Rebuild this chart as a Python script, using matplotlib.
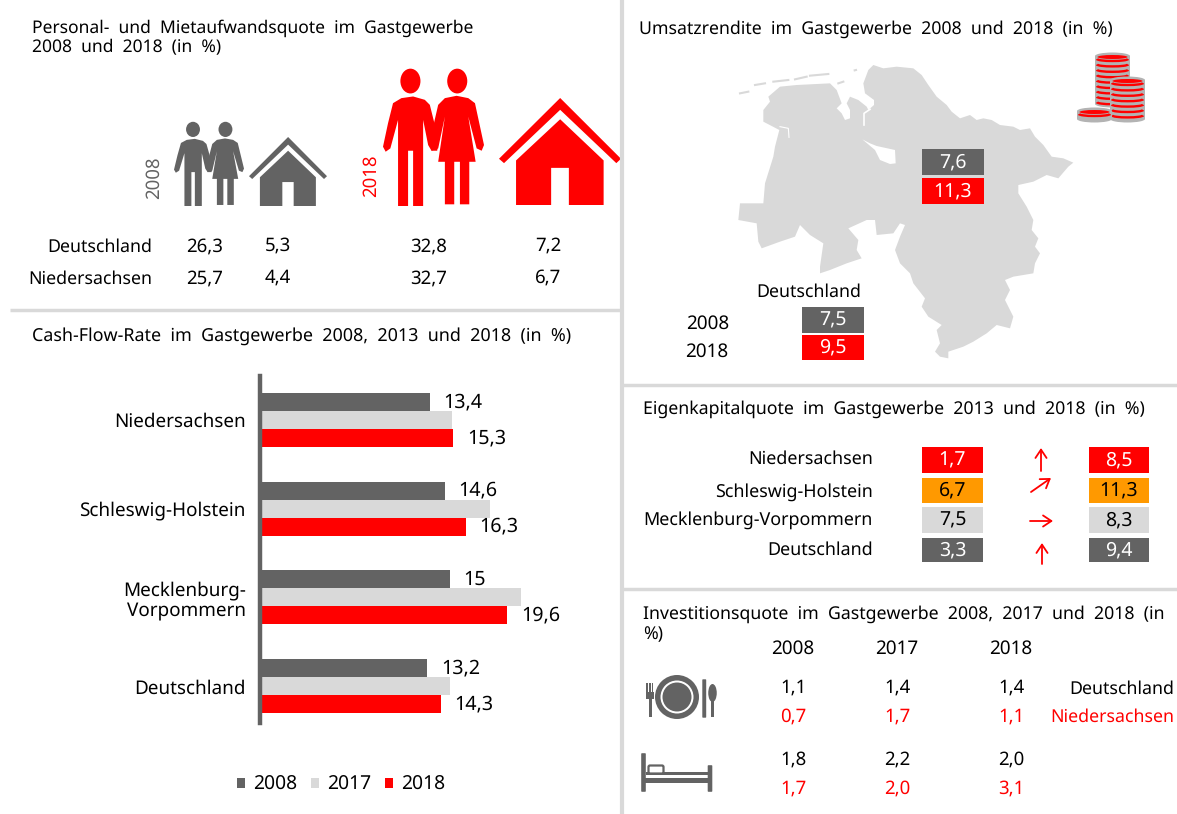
"""Gastgewerbe infographic: five small panels on one page."""

import matplotlib

matplotlib.use("Agg")

import matplotlib.pyplot as plt
from matplotlib.patches import Arc, Circle, Ellipse, FancyArrowPatch, FancyBboxPatch, Polygon, Rectangle

GRAY = "#636363"
LIGHT = "#d9d9d9"
COIN = "#b3b3b3"
RED = "#ff0000"
ORANGE = "#ff9900"
FONT = "Noto Sans"

plt.rcParams["font.family"] = [FONT, "DejaVu Sans"]
# unhinted text scales evenly with the size, so widths can be matched
plt.rcParams["text.hinting"] = "none"

# Cash-Flow-Rate
CF_REGIONS = ["Niedersachsen", "Schleswig-Holstein", "Mecklenburg-\nVorpommern", "Deutschland"]
CF_2008 = [13.4, 14.6, 15.0, 13.2]
CF_2017 = [15.2, 18.2, 20.7, 15.0]
CF_2018 = [15.3, 16.3, 19.6, 14.3]
CF_LABELS_2008 = ["13,4", "14,6", "15", "13,2"]
CF_LABELS_2018 = ["15,3", "16,3", "19,6", "14,3"]

# Personal- und Mietaufwandsquote
QUOTE_REGIONS = ["Deutschland", "Niedersachsen"]
QUOTE_PERSONAL_2008 = ["26,3", "25,7"]
QUOTE_MIETE_2008 = ["5,3", "4,4"]
QUOTE_PERSONAL_2018 = ["32,8", "32,7"]
QUOTE_MIETE_2018 = ["7,2", "6,7"]

# Umsatzrendite
RENDITE_NDS = ["7,6", "11,3"]
RENDITE_DE = ["7,5", "9,5"]
RENDITE_YEARS = ["2008", "2018"]

# Eigenkapitalquote
EK_REGIONS = ["Niedersachsen", "Schleswig-Holstein", "Mecklenburg-Vorpommern", "Deutschland"]
EK_2013 = ["1,7", "6,7", "7,5", "3,3"]
EK_2018 = ["8,5", "11,3", "8,3", "9,4"]

# Investitionsquote
INV_YEARS = ["2008", "2017", "2018"]
INV_GASTRO_DE = ["1,1", "1,4", "1,4"]
INV_GASTRO_NDS = ["0,7", "1,7", "1,1"]
INV_BEHERB_DE = ["1,8", "2,2", "2,0"]
INV_BEHERB_NDS = ["1,7", "2,0", "3,1"]

# outlines of the pictograms, in pixels of the source artwork
MAN = [(790, 130), (815, 115), (850, 110), (885, 120), (900, 135), (915, 195), (925, 255), (922, 272),
       (905, 272), (895, 255), (880, 180), (880, 437), (850, 437), (850, 272), (835, 272), (835, 437),
       (805, 437), (805, 180), (782, 265), (768, 275), (760, 260), (775, 190)]
WOMAN = [(925, 135), (945, 115), (980, 108), (1015, 115), (1035, 130), (1062, 255), (1055, 272),
         (1040, 265), (1015, 170), (1037, 305), (1018, 305), (1018, 432), (990, 432), (990, 305),
         (973, 305), (973, 432), (945, 432), (945, 305), (925, 305), (945, 170), (925, 265), (905, 272),
         (910, 200)]
ROOF = [(1107, 295), (1290, 115), (1472, 295), (1458, 308), (1290, 150), (1122, 308)]
HOUSE = [(1290, 178), (1420, 300), (1420, 432), (1316, 432), (1316, 322), (1263, 322), (1263, 432),
         (1158, 432), (1158, 300)]
LAND = [(580, 45), (610, 55), (650, 50), (700, 55), (725, 75), (745, 105), (770, 140), (800, 165),
        (815, 185), (840, 205), (870, 195), (890, 210), (910, 205), (935, 210), (960, 225), (1000, 230),
        (1020, 240), (1050, 235), (1065, 260), (1090, 285), (1115, 320), (1150, 325), (1180, 338),
        (1165, 350), (1135, 385), (1100, 375), (1060, 395), (1015, 405), (1015, 430), (1040, 470),
        (1060, 510), (1055, 540), (1075, 565), (1065, 590), (1080, 610), (1065, 640), (1060, 670),
        (1000, 680), (975, 690), (990, 720), (975, 750), (1000, 800), (990, 835), (950, 825), (920, 850),
        (880, 875), (850, 890), (805, 905), (805, 925), (780, 920), (765, 905), (780, 880), (770, 840),
        (785, 825), (745, 800), (725, 770), (735, 745), (700, 700), (690, 670), (660, 640), (645, 600),
        (660, 560), (675, 525), (660, 520), (640, 550), (590, 555), (585, 510), (560, 510), (505, 535),
        (535, 570), (530, 600), (545, 625), (500, 640), (450, 660), (420, 670), (420, 650), (430, 580),
        (390, 555), (360, 525), (345, 560), (300, 575), (245, 595), (235, 575), (230, 520), (175, 510),
        (180, 460), (250, 460), (255, 400), (280, 320), (285, 290), (298, 240), (250, 215), (250, 180),
        (270, 155), (265, 140), (300, 110), (350, 105), (450, 100), (470, 120), (485, 160), (470, 175),
        (485, 190), (495, 210), (510, 205), (510, 180), (500, 160), (510, 140), (535, 150), (560, 170),
        (565, 180), (582, 165), (582, 150), (555, 130), (550, 100), (565, 60)]
BREMEN = [(547, 268), (570, 280), (590, 288), (645, 300), (647, 340), (630, 342), (600, 330), (585, 300)]
ISLANDS = [[(180, 130), (205, 125)], [(225, 105), (255, 100)], [(280, 95), (325, 90)],
           [(345, 88), (380, 80)], [(390, 77), (445, 72)], [(475, 100), (490, 95)], [(524, 61), (528, 60)]]
CHANNEL = [(570, 178), (552, 190), (552, 225)]
EMS_LINE = [(300, 230), (325, 235), (327, 262)]


def label(ax, x, y, text, color="black", size=12.75, ha="center", **kwargs):
    ax.text(x, y, text, color=color, fontsize=size, ha=ha, va="center", **kwargs)


def value_box(ax, x0, x1, y0, y1, text, face, color="white"):
    ax.add_patch(Rectangle((x0, y0), x1 - x0, y1 - y0, facecolor=face, edgecolor="none"))
    label(ax, (x0 + x1) / 2, (y0 + y1) / 2, text, color=color, size=14)


def draw_couple(ax, x0, x1, y0, y1, color):
    # the artwork box is 760..1062 by 28..437
    def fx(v):
        return x0 + (v - 760) / 302 * (x1 - x0)

    def fy(v):
        return y0 + (v - 28) / 409 * (y1 - y0)

    for shape in (MAN, WOMAN):
        ax.add_patch(Polygon([(fx(a), fy(b)) for a, b in shape], facecolor=color, edgecolor="none"))
    for cx in (842, 982):
        ax.add_patch(Ellipse((fx(cx), fy(64)), 60 / 302 * (x1 - x0), 74 / 409 * (y1 - y0),
                             facecolor=color, edgecolor="none"))


def draw_house(ax, x0, x1, y0, y1, color):
    def fx(v):
        return x0 + (v - 1107) / 365 * (x1 - x0)

    def fy(v):
        return y0 + (v - 115) / 317 * (y1 - y0)

    for shape in (ROOF, HOUSE):
        ax.add_patch(Polygon([(fx(a), fy(b)) for a, b in shape], facecolor=color, edgecolor="none"))


def draw_map(ax):
    def to_page(points):
        return [(680 + a / 3, 50 + b / 3) for a, b in points]

    ax.add_patch(Polygon(to_page(LAND), facecolor=LIGHT, edgecolor="none"))
    ax.add_patch(Polygon(to_page(BREMEN), facecolor="white", edgecolor="none"))
    for piece in ISLANDS:
        xs, ys = zip(*to_page(piece))
        ax.plot(xs, ys, color=LIGHT, lw=1.5)
    xs, ys = zip(*to_page(CHANNEL))
    ax.plot(xs, ys, color="white", lw=1.2)
    xs, ys = zip(*to_page(EMS_LINE))
    ax.plot(xs, ys, color="white", lw=0.8)


def draw_coin_stack(ax, x0, x1, top, bottom):
    center = (x0 + x1) / 2
    width = x1 - x0
    ax.add_patch(Rectangle((x0, top + 3), width, bottom - top - 6, facecolor=COIN, edgecolor="none"))
    ax.add_patch(Ellipse((center, top + 3), width, 7, facecolor=COIN, edgecolor="none"))
    ax.add_patch(Ellipse((center, bottom - 3), width, 7, facecolor=COIN, edgecolor="none"))
    ax.add_patch(Ellipse((center, top + 4), width - 5, 4, facecolor=RED, edgecolor="none"))
    y = top + 6
    while y < bottom - 4:
        ax.add_patch(Arc((center, y), width - 4, 4, theta1=0, theta2=180, color=RED, lw=1.7))
        y += 5.4


def draw_cutlery(ax):
    ax.add_patch(Circle((677, 697), 22, facecolor=GRAY, edgecolor="none"))
    ax.add_patch(Circle((677, 697), 16.5, facecolor="white", edgecolor="none"))
    ax.add_patch(Circle((677, 697), 14.5, facecolor=GRAY, edgecolor="none"))
    # fork
    ax.add_patch(Rectangle((648.5, 697), 3, 20, facecolor=GRAY, edgecolor="none"))
    ax.add_patch(Rectangle((646, 692), 8, 7, facecolor=GRAY, edgecolor="none"))
    for x in (646, 648.8, 651.6):
        ax.add_patch(Rectangle((x, 683), 1.8, 10, facecolor=GRAY, edgecolor="none"))
    # knife
    ax.add_patch(FancyBboxPatch((703, 680), 2.5, 37, boxstyle="round,pad=0.7", facecolor=GRAY, edgecolor="none"))
    # spoon
    ax.add_patch(Ellipse((712.5, 693), 8.5, 18, facecolor=GRAY, edgecolor="none"))
    ax.add_patch(Rectangle((711, 695), 3, 22, facecolor=GRAY, edgecolor="none"))


def draw_bed(ax):
    ax.add_patch(FancyBboxPatch((642, 754), 3, 37, boxstyle="round,pad=0.8", facecolor=GRAY, edgecolor="none"))
    ax.add_patch(FancyBboxPatch((708.5, 766), 3, 25, boxstyle="round,pad=0.8", facecolor=GRAY, edgecolor="none"))
    ax.add_patch(Rectangle((642, 778), 70, 5, facecolor=GRAY, edgecolor="none"))
    ax.add_patch(Rectangle((646, 771.5), 62, 3.5, facecolor=GRAY, edgecolor="none"))
    ax.add_patch(FancyBboxPatch((650, 767), 12, 5, boxstyle="round,pad=1.5", facecolor="white", edgecolor=GRAY, lw=1.6))


def draw_personal_panel(ax):
    label(ax, 32, 28, "Personal-  und  Mietaufwandsquote  im  Gastgewerbe", ha="left", size=12.6)
    label(ax, 32, 48, "2008  und  2018  (in  %)", ha="left", size=12.6)

    draw_couple(ax, 174, 244, 122, 206, GRAY)
    draw_house(ax, 249, 327, 137, 206, GRAY)
    draw_couple(ax, 383, 484, 69, 206, RED)
    draw_house(ax, 499, 621, 98, 205, RED)
    label(ax, 154, 178, "2008", color=GRAY, rotation=90, size=13.4)
    label(ax, 371, 176, "2018", color=RED, rotation=90, size=13.4)

    rows = [247, 279]
    for i, y in enumerate(rows):
        label(ax, 152, y, QUOTE_REGIONS[i], ha="right", size=12.8)
        label(ax, 205, y, QUOTE_PERSONAL_2008[i], size=13.4)
        label(ax, 278, y - 1, QUOTE_MIETE_2008[i], size=13.4)
        label(ax, 429, y, QUOTE_PERSONAL_2018[i], size=13.4)
        label(ax, 548, y - 1, QUOTE_MIETE_2018[i], size=13.4)


def draw_rendite_panel(ax):
    label(ax, 639, 29, "Umsatzrendite  im  Gastgewerbe  2008  und  2018  (in  %)", ha="left")
    draw_map(ax)
    draw_coin_stack(ax, 1095, 1130, 53, 107)
    draw_coin_stack(ax, 1110, 1145, 77, 122)
    draw_coin_stack(ax, 1077, 1112, 108, 122)
    value_box(ax, 922, 984, 149, 175, RENDITE_NDS[0], GRAY)
    value_box(ax, 922, 984, 178, 204, RENDITE_NDS[1], RED)
    label(ax, 809, 292, "Deutschland", size=12.8)
    value_box(ax, 802, 864, 307, 333, RENDITE_DE[0], GRAY)
    value_box(ax, 802, 864, 335, 360, RENDITE_DE[1], RED)
    label(ax, 708, 324, RENDITE_YEARS[0], size=13.6)
    label(ax, 707, 352, RENDITE_YEARS[1], size=13.6)


def draw_eigenkapital_panel(ax):
    label(ax, 643, 409, "Eigenkapitalquote  im  Gastgewerbe  2013  und  2018  (in  %)", ha="left")
    spans = [(447, 473), (478, 503), (507, 533), (538, 562)]
    faces = [RED, ORANGE, LIGHT, GRAY]
    inks = ["white", "black", "black", "white"]
    rows = [459, 492, 520, 550]
    arrows = [((1041, 471), (1041, 448)), ((1031, 492), (1051, 478)),
              ((1030, 521), (1053, 521)), ((1042, 564), (1042, 543))]
    for i, (y0, y1) in enumerate(spans):
        label(ax, 873, rows[i], EK_REGIONS[i], ha="right", size=12.9)
        value_box(ax, 922, 983, y0, y1, EK_2013[i], faces[i], inks[i])
        value_box(ax, 1089, 1149, y0, y1, EK_2018[i], faces[i], inks[i])
        ax.add_patch(FancyArrowPatch(arrows[i][0], arrows[i][1], arrowstyle="->,head_width=4,head_length=6",
                                     color=RED, lw=1.3, shrinkA=0, shrinkB=0))


def draw_invest_panel(ax):
    label(ax, 643, 614, "Investitionsquote  im  Gastgewerbe  2008,  2017  und  2018  (in", ha="left")
    label(ax, 643, 635, "%)", ha="left")
    columns = [793, 897, 1011]
    for x, year, a, b, c, d in zip(columns, INV_YEARS, INV_GASTRO_DE, INV_GASTRO_NDS,
                                   INV_BEHERB_DE, INV_BEHERB_NDS):
        label(ax, x, 649, year, size=13.6)
        label(ax, x, 688, a, size=13.4)
        label(ax, x, 717, b, color=RED, size=13.4)
        label(ax, x, 760, c, size=13.4)
        label(ax, x, 789, d, color=RED, size=13.4)
    label(ax, 1174, 689, "Deutschland", ha="right", size=12.8)
    label(ax, 1174, 717, "Niedersachsen", color=RED, ha="right", size=12.8)
    draw_cutlery(ax)
    draw_bed(ax)


def draw_cashflow_panel(ax, fig):
    label(ax, 32, 336, "Cash-Flow-Rate  im  Gastgewerbe  2008,  2013  und  2018  (in  %)", ha="left", size=12.9)

    # axes box in page pixels: zero line at x=262, 12.5 px per unit, 88.7 px per group
    width, height = 1177, 814
    chart = fig.add_axes([262 / width, 1 - 723 / height, 340 / width, 347 / height])
    chart.patch.set_alpha(0)
    positions = list(range(len(CF_REGIONS)))
    bar_h = 18 / 88.7
    bars_2008 = chart.barh([p - bar_h for p in positions], CF_2008, height=bar_h, color=GRAY, label="2008")
    chart.barh(positions, CF_2017, height=bar_h, color=LIGHT, label="2017")
    bars_2018 = chart.barh([p + bar_h for p in positions], CF_2018, height=bar_h, color=RED, label="2018")
    chart.bar_label(bars_2008, labels=CF_LABELS_2008, padding=10, fontsize=14.2)
    chart.bar_label(bars_2018, labels=CF_LABELS_2018, padding=10, fontsize=14.2)

    chart.set_xlim(0, 340 / 12.5)
    chart.set_ylim(3.415, -0.495)
    chart.set_yticks(positions, CF_REGIONS)
    chart.set_xticks([])
    chart.tick_params(axis="y", length=0, pad=10.5, labelsize=13.6)
    for tick in chart.get_yticklabels():
        tick.set_multialignment("center")
    for side in ("top", "right", "bottom"):
        chart.spines[side].set_visible(False)
    chart.spines["left"].set_color(GRAY)
    chart.spines["left"].set_linewidth(3.2)
    chart.spines["left"].set_position(("outward", 1.2))

    chart.legend(loc="center", bbox_to_anchor=(341 / width, 1 - 785 / height), bbox_transform=fig.transFigure,
                 ncol=3, frameon=False, fontsize=13.9, handlelength=0.45, handleheight=0.45,
                 handletextpad=0.4, columnspacing=0.7, borderpad=0)


def main() -> None:
    fig = plt.figure(figsize=(11.77, 8.14), dpi=100)
    page = fig.add_axes([0, 0, 1, 1])
    page.set_xlim(0, 1177)
    page.set_ylim(814, 0)
    page.axis("off")

    # panel dividers
    for x0, x1, y in [(10, 620, 310), (622, 1177, 385), (622, 1177, 589)]:
        page.plot([x0, x1], [y, y], color=LIGHT, lw=2.5, solid_capstyle="butt")
    page.plot([622, 622], [0, 814], color=LIGHT, lw=3, solid_capstyle="butt")

    draw_personal_panel(page)
    draw_rendite_panel(page)
    draw_eigenkapital_panel(page)
    draw_invest_panel(page)
    draw_cashflow_panel(page, fig)

    fig.savefig("out.png", dpi=100)
    plt.close(fig)


if __name__ == "__main__":
    main()
